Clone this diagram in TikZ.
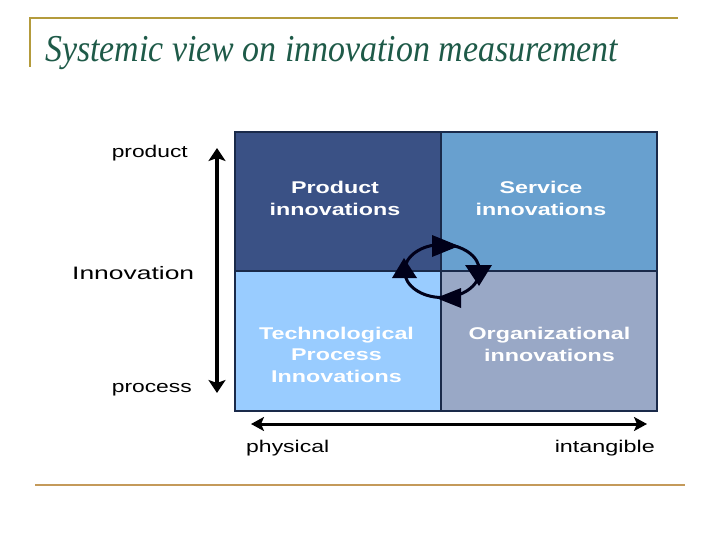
\documentclass[tikz,border=0pt]{standalone}
\usepackage{fontspec}
\setmainfont{Liberation Sans}
\newfontfamily\titlefont{Liberation Serif}
\usetikzlibrary{arrows.meta}
\definecolor{gold}{HTML}{B49B3C}
\definecolor{tan}{HTML}{C49A5A}
\definecolor{titlegreen}{HTML}{1E5A48}
\definecolor{qtl}{HTML}{3A5185}
\definecolor{qtr}{HTML}{68A0CF}
\definecolor{qbl}{HTML}{99CCFF}
\definecolor{qbr}{HTML}{99A8C6}
\definecolor{qborder}{HTML}{1A2A4A}
\newcommand{\sxw}[2]{\resizebox{#1pt}{\height}{#2}}
\newcommand{\bq}[1]{\scalebox{1.37}[1]{\fontsize{17}{17}\selectfont\bfseries #1}}
\begin{document}
\begin{tikzpicture}[x=1pt,y=-1pt,
  quad/.style={draw=qborder,line width=1.3pt,minimum width=#1,minimum height=139pt,inner sep=0pt},
  qtext/.style={text=white,anchor=base,inner sep=0pt},
  lab/.style={text=black,inner sep=0pt},
  bigarrow/.style={line width=3.5pt,{Stealth[length=13pt,width=17pt,inset=3pt]}-{Stealth[length=13pt,width=17pt,inset=3pt]}},
  harrow/.style={line width=3pt,{Stealth[length=13pt,width=14pt,inset=3pt]}-{Stealth[length=13pt,width=14pt,inset=3pt]}},
  cycline/.style={draw=black!90!blue,line width=3pt},
  tri/.style={fill=black!90!blue}]
\useasboundingbox (0,0) rectangle (720,540);
% frame lines
\coordinate (tl0) at (29.5,18);
\coordinate (tr0) at (678,18);
\coordinate (tlb) at (29.5,67);
\draw[gold,line width=2pt] (tlb) -- (tl0) -- (tr0);
\coordinate (bl0) at (35,485);
\coordinate (br0) at (685,485);
\draw[tan,line width=2.5pt] (bl0) -- (br0);
% title
\node[anchor=base west,inner sep=0pt,text=titlegreen] (title) at (45,62)
  {\sxw{573}{\fontsize{38}{38}\titlefont\itshape Systemic view on innovation measurement}};
% quadrants
\node[quad=206pt,fill=qtl] (qa) at (338,201.5) {};
\node[quad=216pt,fill=qtr] (qb) at (549,201.5) {};
\node[quad=206pt,fill=qbl,minimum height=140pt] (qc) at (338,341) {};
\node[quad=216pt,fill=qbr,minimum height=140pt] (qd) at (549,341) {};
% quadrant texts
\node[qtext] (a1) at (335,194) {\bq{Product}};
\node[qtext] (a2) at (335,215.5) {\bq{innovations}};
\node[qtext] (b1) at (541,194) {\bq{Service}};
\node[qtext] (b2) at (541,215.5) {\bq{innovations}};
\node[qtext] (c1) at (336.5,339) {\bq{Technological}};
\node[qtext] (c2) at (336.5,360.5) {\bq{Process}};
\node[qtext] (c3) at (336.5,382) {\bq{Innovations}};
\node[qtext] (d1) at (549.5,339.5) {\bq{Organizational}};
\node[qtext] (d2) at (549.5,361) {\bq{innovations}};
% cycle
\coordinate (cc) at (442,271);
\draw[cycline] (cc) ellipse [x radius=37.5, y radius=26.5];
\fill[tri] (432,235) -- (459,246) -- (432,257) -- cycle;
\fill[tri] (465,265) -- (492,265) -- (479,286) -- cycle;
\fill[tri] (461,288) -- (461,308) -- (436,298) -- cycle;
\fill[tri] (392,278) -- (417,278) -- (404,258) -- cycle;
% axes
\coordinate (vtop) at (217,148);
\coordinate (vbot) at (217,393);
\draw[bigarrow] (vtop) -- (vbot);
\coordinate (hl) at (251,424);
\coordinate (hr) at (647,424);
\draw[harrow] (hl) -- (hr);
% labels
\node[lab,anchor=base east] (lprod) at (188,158) {\sxw{76}{\fontsize{17}{17}\selectfont product}};
\node[lab,anchor=base west] (linno) at (72,279) {\sxw{122}{\fontsize{18}{18}\selectfont Innovation}};
\node[lab,anchor=base east] (lproc) at (192,392) {\sxw{80}{\fontsize{17}{17}\selectfont process}};
\node[lab,anchor=base west] (lphys) at (246,452) {\sxw{83}{\fontsize{17}{17}\selectfont physical}};
\node[lab,anchor=base east] (lint) at (655,452) {\sxw{100}{\fontsize{17}{17}\selectfont intangible}};
\end{tikzpicture}
\end{document}
